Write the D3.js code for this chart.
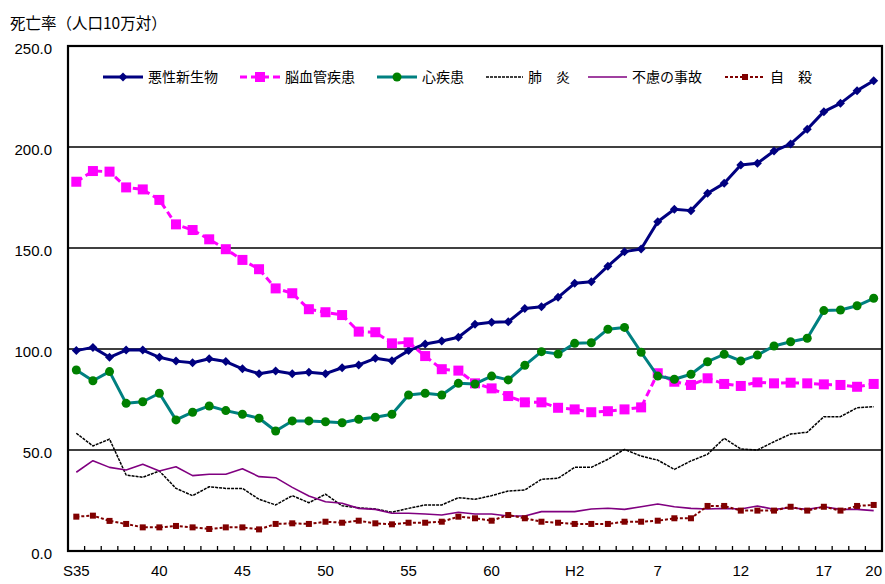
<!DOCTYPE html>
<html><head><meta charset="utf-8">
<script src="https://cdn.jsdelivr.net/npm/d3@7/dist/d3.min.js"></script>
<style>
html,body{margin:0;padding:0;background:#fff;}
svg{display:block;}
</style></head>
<body>
<svg id="chart" width="885" height="584"></svg>
<script>
// Categories: 昭和35年(1960) – 平成20年(2008)
const categories = ["S35","S36","S37","S38","S39","S40","S41","S42","S43","S44",
  "S45","S46","S47","S48","S49","S50","S51","S52","S53","S54",
  "S55","S56","S57","S58","S59","S60","S61","S62","S63","H1",
  "H2","H3","H4","H5","H6","H7","H8","H9","H10","H11",
  "H12","H13","H14","H15","H16","H17","H18","H19","H20"];
const tickCats  = ["S35","S40","S45","S50","S55","S60","H2","H7","H12","H17","H20"];
const tickTexts = ["S35","40","45","50","55","60","H2","7","12","17","20"];
const yTicks = [0,50,100,150,200,250];

const cancer = [99.2,100.8,95.9,99.5,99.5,95.9,94.0,93.2,95.2,93.8,
  90.2,87.8,89.1,87.8,88.5,87.8,90.7,92.1,95.4,94.2,
  99.2,102.5,104.0,105.8,112.2,113.2,113.5,120.1,120.9,125.6,
  132.5,133.3,141.0,148.2,149.5,163.0,169.2,168.5,177.1,182.0,
  191.1,191.9,198.0,201.5,208.8,217.5,221.6,227.9,232.8];
const cerebro = [182.8,188.1,187.8,180.0,179.0,173.8,161.7,158.9,154.3,149.4,
  144.1,139.5,130.0,127.6,119.7,118.2,116.8,108.6,108.3,102.8,
  103.3,96.5,90.0,89.3,83.0,80.5,76.7,73.6,73.6,70.9,
  70.1,68.7,69.2,70.1,71.1,88.0,83.8,82.2,85.5,82.7,
  81.7,83.5,83.0,83.3,83.0,82.5,82.2,81.3,82.7];
const heart = [89.6,84.3,88.8,73.1,73.9,78.1,64.9,68.7,71.8,69.5,
  67.7,65.7,59.4,64.4,64.4,64.0,63.5,65.2,66.2,67.7,
  77.2,78.1,77.2,83.0,82.7,86.6,84.7,91.9,98.7,97.5,
  102.8,103.1,109.8,110.7,98.4,86.6,85.0,87.5,93.7,97.4,
  94.1,97.0,101.5,103.6,105.3,119.0,119.3,121.4,125.1];
const pneumonia = [58.3,52.0,55.4,37.6,36.5,39.6,31.0,27.4,31.8,31.0,
  31.0,25.6,22.8,27.4,23.9,28.1,22.4,21.4,20.8,19.2,
  21.1,22.8,22.8,26.4,25.6,27.4,29.7,30.2,35.5,36.0,
  41.4,41.4,45.4,50.3,47.0,45.0,40.4,44.6,47.9,55.8,
  50.5,50.0,54.1,57.9,58.8,66.5,66.5,70.9,71.4];
const accident = [39.0,44.7,41.4,40.1,42.9,39.6,41.7,37.3,38.0,38.0,
  40.7,36.8,36.3,31.5,27.2,24.4,23.6,21.1,20.6,18.7,
  18.7,18.3,17.8,19.2,18.3,18.3,17.3,17.3,19.5,19.5,
  19.5,20.8,21.2,20.6,21.9,23.3,21.9,21.1,20.8,21.1,
  20.8,22.3,20.6,21.4,20.6,21.9,20.6,20.6,20.0];
const suicide = [17.0,17.5,14.9,13.4,11.7,11.7,12.4,11.7,10.9,11.7,
  11.7,10.7,13.4,13.7,13.4,14.5,14.0,15.0,13.7,13.2,
  14.0,14.0,14.5,17.0,16.2,15.0,17.8,16.2,14.5,14.0,
  13.4,13.4,13.4,14.5,14.5,15.0,16.2,16.2,22.3,22.3,
  20.0,20.0,20.0,21.9,20.0,21.9,20.0,22.3,22.8];

const seriesNames = ["悪性新生物","脳血管疾患","心疾患","肺　炎","不慮の事故","自　殺"];

const series = [
  {name:seriesNames[0], values:cancer,   line:"#000080", lw:3,   dash:null,  marker:"diamond", mfill:"#000080", ms:9},
  {name:seriesNames[1], values:cerebro,  line:"#FF00FF", lw:3,   dash:"7,4", marker:"square",  mfill:"#FF00FF", ms:10},
  {name:seriesNames[2], values:heart,    line:"#008080", lw:3,   dash:null,  marker:"circle",  mfill:"#008000", ms:9},
  {name:seriesNames[3], values:pneumonia,line:"#000000", lw:1.5, dash:"3,1", marker:null},
  {name:seriesNames[4], values:accident, line:"#800080", lw:1.6, dash:null,  marker:null},
  {name:seriesNames[5], values:suicide,  line:"#800000", lw:2,   dash:"3,2", marker:"square",  mfill:"#800000", ms:6}
];

const L = 68, R = 882, T = 46, B = 551;
const svg = d3.select("#chart");
const x = d3.scaleBand().domain(categories).range([L, R]).padding(0);
const y = d3.scaleLinear().domain([0, 250]).range([B, T]);
const cx = c => x(c) + x.bandwidth()/2;

const numFont = "'Liberation Sans', Arial, sans-serif";
const cjkFont = "'Noto Sans CJK JP', 'Noto Sans', sans-serif";

// title
svg.append("text").attr("x", 10).attr("y", 29)
  .attr("font-family", cjkFont).attr("font-size", 15.5).attr("fill", "#000")
  .text("死亡率（人口10万対）");

// gridlines
svg.append("g").selectAll("line").data(yTicks.filter(v => v > 0 && v < 250)).join("line")
  .attr("x1", L).attr("x2", R).attr("y1", d => y(d)).attr("y2", d => y(d))
  .attr("stroke", "#000").attr("stroke-width", 1.6);

// y axis labels
const yAxis = d3.axisLeft(y).tickValues(yTicks).tickFormat(d3.format(".1f")).tickSize(0).tickPadding(16);
const gy = svg.append("g").attr("transform", `translate(${L},3)`).call(yAxis);
gy.select(".domain").remove();
gy.selectAll("text").attr("font-family", numFont).attr("font-size", 15).attr("fill", "#000");

// x axis labels
const labelMap = new Map(tickCats.map((c, i) => [c, tickTexts[i]]));
const xAxis = d3.axisBottom(x).tickValues(tickCats).tickFormat(c => labelMap.get(c)).tickSize(0).tickPadding(14);
const gx = svg.append("g").attr("transform", `translate(0,${B})`).call(xAxis);
gx.select(".domain").remove();
gx.selectAll("text").attr("font-family", numFont).attr("font-size", 15).attr("fill", "#000");

// minor ticks at category boundaries
svg.append("g").selectAll("line").data(categories.slice(1)).join("line")
  .attr("x1", c => x(c)).attr("x2", c => x(c)).attr("y1", B).attr("y2", B - 5)
  .attr("stroke", "#000").attr("stroke-width", 1.3);

// plot border
svg.append("rect").attr("x", L).attr("y", T).attr("width", R - L).attr("height", B - T)
  .attr("fill", "none").attr("stroke", "#000").attr("stroke-width", 2.2);

function drawMarker(g, type, px, py, size, fill) {
  const h = size/2;
  if (type === "diamond") {
    g.append("path").attr("d", `M${px},${py-h}L${px+h},${py}L${px},${py+h}L${px-h},${py}Z`).attr("fill", fill);
  } else if (type === "square") {
    g.append("rect").attr("x", px-h).attr("y", py-h).attr("width", size).attr("height", size).attr("fill", fill);
  } else if (type === "circle") {
    g.append("circle").attr("cx", px).attr("cy", py).attr("r", h).attr("fill", fill);
  }
}

const line = d3.line().x((d, i) => cx(categories[i])).y(d => y(d));
series.forEach(s => {
  const g = svg.append("g");
  g.append("path").attr("d", line(s.values)).attr("fill", "none")
    .attr("stroke", s.line).attr("stroke-width", s.lw)
    .attr("stroke-dasharray", s.dash).attr("stroke-linejoin", "round");
  if (s.marker) s.values.forEach((v, i) => drawMarker(g, s.marker, cx(categories[i]), y(v), s.ms, s.mfill));
});

// legend
const legendPos = [[103,148],[240,285],[377,422],[486,528],[588,632],[725,770]];
const ly = 77;
series.forEach((s, i) => {
  const [x0, tx] = legendPos[i];
  const x1 = tx - 5;
  const g = svg.append("g");
  g.append("line").attr("x1", x0).attr("x2", x1).attr("y1", ly).attr("y2", ly)
    .attr("stroke", s.line).attr("stroke-width", s.lw).attr("stroke-dasharray", s.dash);
  if (s.marker) drawMarker(g, s.marker, (x0 + x1)/2, ly, s.ms, s.mfill);
  g.append("text").attr("x", tx).attr("y", ly + 5).attr("font-family", cjkFont)
    .attr("font-size", 14).attr("fill", "#000").text(s.name);
});
</script>
</body></html>
